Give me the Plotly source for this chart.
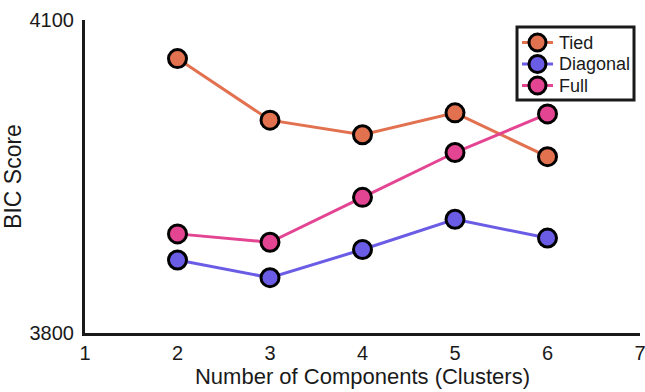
import plotly.graph_objects as go

components = [2, 3, 4, 5, 6]
tied = [4063, 4004, 3990, 4011, 3969]
diagonal = [3870, 3853, 3880, 3909, 3891]
full = [3895, 3887, 3930, 3973, 4010]

x_ticks = [1, 2, 3, 4, 5, 6, 7]
y_ticks = [3800, 4100]

series_names = ["Tied", "Diagonal", "Full"]
series_values = [tied, diagonal, full]
series_colors = ["#E2714F", "#6B5CE6", "#E44593"]

FONT = "Liberation Sans, Arial, Helvetica, sans-serif"
INK = "#1a1a1a"

fig = go.Figure()
for name, vals, col in zip(series_names, series_values, series_colors):
    fig.add_trace(go.Scatter(
        x=components, y=vals, name=name, mode="lines+markers",
        line=dict(color=col, width=3),
        marker=dict(size=18, color=col, line=dict(color="black", width=3)),
        showlegend=False,
    ))

# Manual legend (paper coordinates) to match the boxed legend style
shapes = [dict(type="rect", xref="paper", yref="paper",
               x0=0.7784, x1=0.9892, y0=0.7444, y1=0.9776,
               line=dict(color=INK, width=3), fillcolor="white", layer="above")]
annotations = []
item_y = [0.9281, 0.8594, 0.7907]
for name, col, yy in zip(series_names, series_colors, item_y):
    shapes.append(dict(type="line", xref="paper", yref="paper",
                       x0=0.7874, x1=0.8432, y0=yy, y1=yy,
                       line=dict(color=col, width=3), layer="above"))
    shapes.append(dict(type="circle", xref="paper", yref="paper",
                       xsizemode="pixel", ysizemode="pixel",
                       xanchor=0.8153, yanchor=yy,
                       x0=-8.5, x1=8.5, y0=-8.5, y1=8.5,
                       fillcolor=col, line=dict(color="black", width=3),
                       layer="above"))
    annotations.append(dict(xref="paper", yref="paper", x=0.8505, y=yy,
                            text=name, showarrow=False, xanchor="left",
                            yanchor="middle", font=dict(size=18, color=INK,
                                                        family=FONT)))

fig.update_layout(
    width=645, height=392,
    margin=dict(l=85, r=5, t=20, b=59, autoexpand=False),
    paper_bgcolor="white", plot_bgcolor="white",
    font=dict(family=FONT, size=20, color=INK),
    showlegend=False,
    shapes=shapes,
    annotations=annotations,
    xaxis=dict(
        range=[1, 7], tickvals=x_ticks, showgrid=False, zeroline=False,
        showline=True, linecolor=INK, linewidth=3, ticks="",
        title=dict(text="Number of Components (Clusters)", font=dict(size=22), standoff=2),
        tickfont=dict(size=20), ticklabelstandoff=0, ticklabeloverflow="allow",
    ),
    yaxis=dict(
        range=[3800, 4100], tickvals=y_ticks, showgrid=False, zeroline=False,
        showline=True, linecolor=INK, linewidth=3, ticks="",
        title=dict(text="BIC Score", font=dict(size=23), standoff=6),
        tickfont=dict(size=20), ticklabelstandoff=4, ticklabeloverflow="allow",
        automargin=True,
    ),
)

fig.write_html(
    "out.html",
    config={"displayModeBar": False},
    post_script="document.body.style.margin='0';"
                "document.documentElement.style.overflow='hidden';",
)
